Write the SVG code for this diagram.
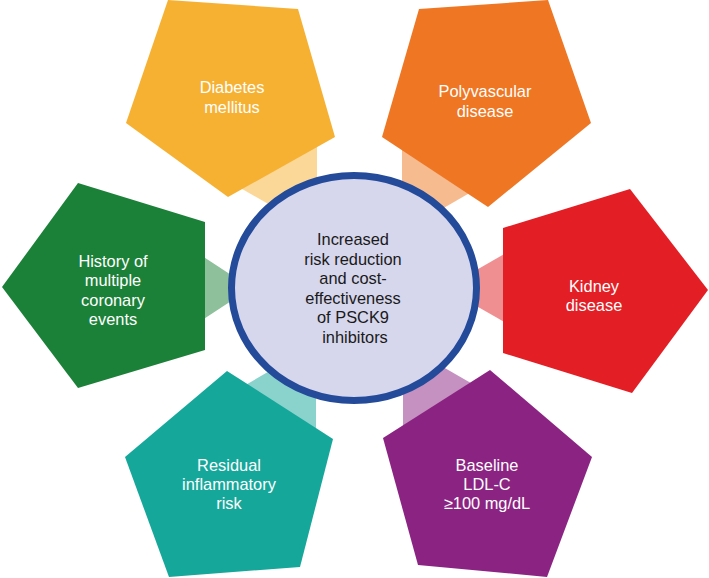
<svg xmlns="http://www.w3.org/2000/svg" width="709" height="578" viewBox="0 0 709 578">
<style>
.t{font-family:"Liberation Sans",Arial,sans-serif;font-size:16.4px;text-anchor:middle;fill:#ffffff}
.c{font-family:"Liberation Sans",Arial,sans-serif;font-size:16.4px;text-anchor:middle;fill:#1a1a1a}
</style>
<rect width="709" height="578" fill="#ffffff"/>
<g id="connectors">
<polygon points="317,232 317,140 230,140 230,182" fill="#FBD898"/>
<polygon points="402,232 402,140 480,140 480,187" fill="#F7BB90"/>
<polygon points="251,288 190,248 190,328" fill="#8DC09B"/>
<polygon points="445,288 520,245 520,331" fill="#F08F91"/>
<polygon points="316,344 316,440 230,440 230,394" fill="#8AD3CD"/>
<polygon points="403,344 403,445 490,445 490,394" fill="#C491C0"/>
</g>
<g id="center">
<ellipse cx="354" cy="288" rx="122.5" ry="112.5" fill="#D6D6EC" stroke="#244A9A" stroke-width="7"/>
<text class="c" x="353" y="245">Increased</text>
<text class="c" x="353" y="264.5">risk reduction</text>
<text class="c" x="353" y="284">and cost-</text>
<text class="c" x="353" y="303.5">effectiveness</text>
<text class="c" x="353" y="323">of PSCK9</text>
<text class="c" x="355" y="342.5">inhibitors</text>
</g>
<g id="diabetes">
<polygon points="168,0 298,9 335,137 228,197 126,123" fill="#F6B133"/>
<text class="t" x="232" y="93">Diabetes</text>
<text class="t" x="232" y="113">mellitus</text>
</g>
<g id="polyvascular">
<polygon points="419,9 548,0 591,123 488,207 382,137" fill="#EF7622"/>
<text class="t" x="485" y="97">Polyvascular</text>
<text class="t" x="485" y="117">disease</text>
</g>
<g id="history">
<polygon points="78,183 205,222 205,350 78,388 2,287" fill="#1C8138"/>
<text class="t" x="113" y="267">History of</text>
<text class="t" x="113" y="286">multiple</text>
<text class="t" x="113" y="305.5">coronary</text>
<text class="t" x="113" y="325">events</text>
</g>
<g id="kidney">
<polygon points="630,189 503,228 503,353 632,393 708,290" fill="#E31E24"/>
<text class="t" x="594" y="292">Kidney</text>
<text class="t" x="594" y="311">disease</text>
</g>
<g id="residual">
<polygon points="227,371 333,439 300,567 169,577 125,457" fill="#16A79B"/>
<text class="t" x="229" y="471">Residual</text>
<text class="t" x="229" y="490">inflammatory</text>
<text class="t" x="229" y="509">risk</text>
</g>
<g id="baseline">
<polygon points="490,370 592,457 547,577 418,565 383,438" fill="#8B2382"/>
<text class="t" x="487" y="471">Baseline</text>
<text class="t" x="487" y="490">LDL-C</text>
<text class="t" x="487" y="509">≥100 mg/dL</text>
</g>
</svg>
